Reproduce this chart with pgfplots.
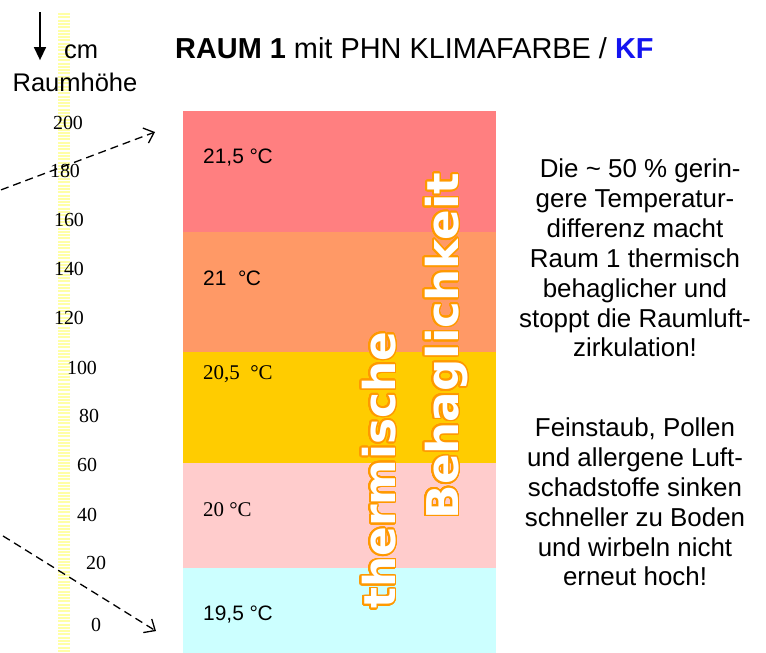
\documentclass[border=0pt]{standalone}
\usepackage{fontspec}
\setmainfont{Liberation Sans}
\newfontfamily\seriffont{Liberation Serif}
\newfontfamily\heavyfont{DejaVu Sans}
\usepackage{graphicx}
\usepackage{contour}
\contourlength{1.6pt}
\contournumber{32}
\usepackage{pgfplots}
\pgfplotsset{compat=1.18}
\usetikzlibrary{arrows.meta}

\definecolor{bandA}{HTML}{FF7F80}
\definecolor{bandB}{HTML}{FF9966}
\definecolor{bandC}{HTML}{FFCC00}
\definecolor{bandD}{HTML}{FFCCCC}
\definecolor{bandE}{HTML}{CCFFFF}
\definecolor{rulery}{HTML}{FFFFA6}
\definecolor{kfblue}{HTML}{1414F0}
\definecolor{outl}{HTML}{FF9900}

\begin{document}
\begin{tikzpicture}
\begin{axis}[
  width=766bp, height=653bp, scale only axis,
  xmin=0, xmax=766, ymin=-11.13, ymax=248.5,
  hide axis, clip=false,
]
%% temperature layers (height in cm)
\addplot[draw=none, fill=bandA] coordinates {(183,156.4) (496,156.4) (496,204.4) (183,204.4)} -- cycle;
\addplot[draw=none, fill=bandB] coordinates {(183,108.7) (496,108.7) (496,156.4) (183,156.4)} -- cycle;
\addplot[draw=none, fill=bandC] coordinates {(183,64.5) (496,64.5) (496,108.7) (183,108.7)} -- cycle;
\addplot[draw=none, fill=bandD] coordinates {(183,22.8) (496,22.8) (496,64.5) (183,64.5)} -- cycle;
\addplot[draw=none, fill=bandE] coordinates {(183,-11.13) (496,-11.13) (496,22.8) (183,22.8)} -- cycle;

%% ruler
\draw[line width=12bp, color=rulery, dash pattern=on 2bp off 1.3bp]
  (axis cs:64,243.3) -- (axis cs:64,-11.13);
\begin{scope}[every node/.style={font=\seriffont\fontsize{20}{24}\selectfont, inner sep=0pt}]
\node at (axis cs:68,199.6) {200};
\node at (axis cs:65,180.5) {180};
\node at (axis cs:69,161) {160};
\node at (axis cs:69,141.5) {140};
\node at (axis cs:69,122) {120};
\node at (axis cs:82,102) {100};
\node at (axis cs:89,83) {80};
\node at (axis cs:87,63.6) {60};
\node at (axis cs:87,43.7) {40};
\node at (axis cs:96,24.7) {20};
\node at (axis cs:96,0) {0};
\end{scope}

%% arrows
\draw[line width=1.5bp, -{Triangle[length=13bp,width=12bp]}]
  (axis cs:40,243.7) -- (axis cs:40,224.6);
\draw[line width=1.3bp, dash pattern=on 8bp off 5bp, -{Straight Barb[length=9bp,width=16bp]}]
  (axis cs:1,173.0) -- (axis cs:155,196.0);
\draw[line width=1.3bp, dash pattern=on 8bp off 5bp, -{Straight Barb[length=9bp,width=16bp]}]
  (axis cs:3,35.4) -- (axis cs:156,-2.4);

%% header
\node[font=\fontsize{25.6}{30}\selectfont, inner sep=0pt] at (axis cs:81,227.8) {cm};
\node[font=\fontsize{25.6}{30}\selectfont, inner sep=0pt] at (axis cs:75,215.9) {Raumhöhe};
\node[font=\fontsize{29}{34}\selectfont, inner sep=0pt, anchor=west] at (axis cs:175,229.4)
  {{\bfseries RAUM 1} mit PHN KLIMAFARBE / {\bfseries\color{kfblue}KF}};

%% layer labels
\begin{scope}[every node/.style={font=\fontsize{21}{25}\selectfont, inner sep=0pt, anchor=west}]
\node at (axis cs:203,185.7) {21,5 °\kern-0.5pt C};
\node at (axis cs:203,138.0) {21\ \ °\kern-0.5pt C};
\node[font=\seriffont\fontsize{21}{25}\selectfont] at (axis cs:203,99.8) {20,5\ \ °C};
\node[font=\seriffont\fontsize{21}{25}\selectfont] at (axis cs:203,45.7) {20 °C};
\node at (axis cs:203,4.0) {19,5 °\kern-0.5pt C};
\end{scope}

%% vertical outlined words
\node[rotate=90, anchor=base, inner sep=0pt] at (axis cs:395,61.6)
  {\color{white}\contour{outl}{\heavyfont\bfseries\fontsize{44}{50}\selectfont thermische}};
\node[rotate=90, anchor=base, inner sep=0pt] at (axis cs:458,110.9)
  {\scalebox{1.03}[1]{\color{white}\contour{outl}{\heavyfont\bfseries\fontsize{44}{50}\selectfont Behaglichkeit}}};

%% side text
\node[font=\fontsize{26}{30}\selectfont, align=center, inner sep=0pt] at (axis cs:635,145.9)
  {\hspace*{0.4em}Die \textasciitilde\ 50 \% gerin-\\gere Temperatur-\\differenz macht\\Raum 1 thermisch\\behaglicher und\\stoppt die Raumluft-\\zirkulation!};
\node[font=\fontsize{26}{30}\selectfont, align=center, inner sep=0pt] at (axis cs:635,48.9)
  {Feinstaub, Pollen\\und allergene Luft-\\schadstoffe sinken\\schneller zu Boden\\und wirbeln nicht\\erneut hoch!};
\end{axis}
\pgfresetboundingbox
\path (0,0) rectangle (766bp,653bp);
\end{tikzpicture}
\end{document}
